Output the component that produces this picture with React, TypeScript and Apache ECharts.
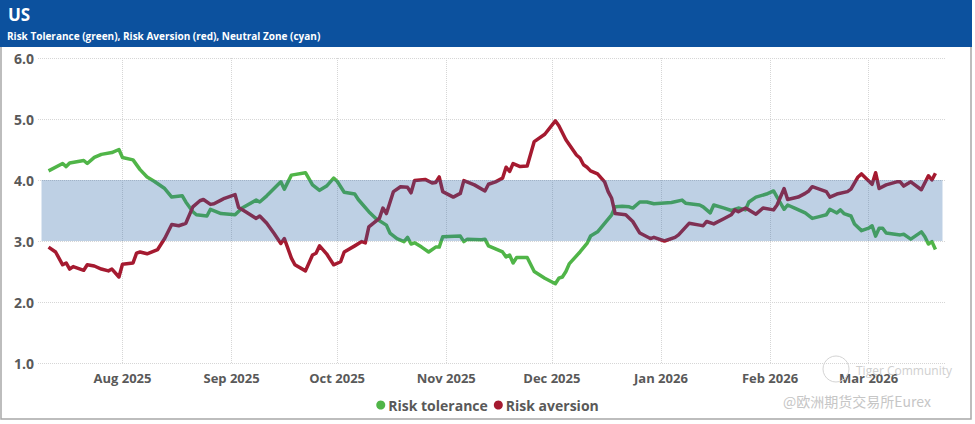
import React, { useEffect, useRef } from 'react';
import * as echarts from 'echarts';

const monthNames = ['Jan', 'Feb', 'Mar', 'Apr', 'May', 'Jun', 'Jul', 'Aug', 'Sep', 'Oct', 'Nov', 'Dec'];

const toleranceDates = [
  '2025-07-11', '2025-07-15', '2025-07-16', '2025-07-17', '2025-07-21', '2025-07-22', '2025-07-24', '2025-07-26', '2025-07-29', '2025-07-31',
  '2025-08-01', '2025-08-04', '2025-08-06', '2025-08-08', '2025-08-10', '2025-08-13', '2025-08-15', '2025-08-18', '2025-08-19', '2025-08-21',
  '2025-08-22', '2025-08-25', '2025-08-26', '2025-08-29', '2025-09-02', '2025-09-04', '2025-09-08', '2025-09-09', '2025-09-11', '2025-09-15',
  '2025-09-16', '2025-09-18', '2025-09-22', '2025-09-24', '2025-09-26', '2025-09-28', '2025-09-30', '2025-10-01', '2025-10-03', '2025-10-06',
  '2025-10-07', '2025-10-10', '2025-10-12', '2025-10-15', '2025-10-16', '2025-10-18', '2025-10-20', '2025-10-21', '2025-10-22', '2025-10-23',
  '2025-10-25', '2025-10-27', '2025-10-29', '2025-10-30', '2025-10-31', '2025-11-05', '2025-11-06', '2025-11-07', '2025-11-11', '2025-11-12',
  '2025-11-13', '2025-11-17', '2025-11-18', '2025-11-19', '2025-11-20', '2025-11-21', '2025-11-24', '2025-11-26', '2025-11-29', '2025-12-02',
  '2025-12-03', '2025-12-04', '2025-12-05', '2025-12-06', '2025-12-09', '2025-12-11', '2025-12-12', '2025-12-14', '2025-12-16', '2025-12-18',
  '2025-12-19', '2025-12-21', '2025-12-23', '2025-12-24', '2025-12-26', '2025-12-28', '2025-12-30', '2026-01-04', '2026-01-07', '2026-01-08',
  '2026-01-12', '2026-01-13', '2026-01-15', '2026-01-16', '2026-01-19', '2026-01-21', '2026-01-23', '2026-01-25', '2026-01-26', '2026-01-28',
  '2026-01-31', '2026-02-02', '2026-02-03', '2026-02-05', '2026-02-06', '2026-02-08', '2026-02-11', '2026-02-13', '2026-02-15', '2026-02-17',
  '2026-02-18', '2026-02-20', '2026-02-21', '2026-02-22', '2026-02-24', '2026-02-25', '2026-02-27', '2026-03-01', '2026-03-02', '2026-03-03',
  '2026-03-04', '2026-03-05', '2026-03-06', '2026-03-10', '2026-03-11', '2026-03-13', '2026-03-16', '2026-03-17', '2026-03-18', '2026-03-19',
  '2026-03-20',
];
const toleranceValues = [
  4.15, 4.27, 4.22, 4.28, 4.32, 4.27, 4.37, 4.42, 4.45, 4.50,
  4.37, 4.33, 4.17, 4.05, 3.98, 3.86, 3.72, 3.74, 3.64, 3.48,
  3.43, 3.41, 3.52, 3.45, 3.43, 3.54, 3.67, 3.64, 3.74, 3.97,
  3.85, 4.08, 4.12, 3.92, 3.83, 3.90, 4.03, 3.98, 3.80, 3.77,
  3.68, 3.48, 3.37, 3.26, 3.13, 3.04, 2.99, 3.06, 2.95, 2.97,
  2.90, 2.82, 2.90, 2.90, 3.07, 3.08, 2.99, 3.03, 3.02, 3.03,
  2.92, 2.82, 2.74, 2.77, 2.64, 2.73, 2.73, 2.50, 2.39, 2.30,
  2.39, 2.41, 2.50, 2.63, 2.82, 2.96, 3.08, 3.15, 3.29, 3.43,
  3.56, 3.57, 3.56, 3.54, 3.64, 3.64, 3.61, 3.63, 3.67, 3.62,
  3.59, 3.56, 3.46, 3.59, 3.54, 3.50, 3.54, 3.51, 3.64, 3.72,
  3.77, 3.82, 3.72, 3.52, 3.59, 3.54, 3.46, 3.37, 3.40, 3.43,
  3.52, 3.46, 3.51, 3.45, 3.41, 3.28, 3.17, 3.21, 3.25, 3.08,
  3.21, 3.21, 3.13, 3.10, 3.11, 3.03, 3.15, 3.07, 2.95, 2.99,
  2.86,
];

const aversionDates = [
  '2025-07-11', '2025-07-13', '2025-07-15', '2025-07-16', '2025-07-17', '2025-07-18', '2025-07-21', '2025-07-22', '2025-07-24', '2025-07-26',
  '2025-07-28', '2025-07-29', '2025-07-31', '2025-08-01', '2025-08-04', '2025-08-05', '2025-08-06', '2025-08-08', '2025-08-11', '2025-08-13',
  '2025-08-15', '2025-08-17', '2025-08-19', '2025-08-21', '2025-08-23', '2025-08-24', '2025-08-26', '2025-08-27', '2025-08-29', '2025-08-30',
  '2025-09-02', '2025-09-03', '2025-09-05', '2025-09-08', '2025-09-09', '2025-09-11', '2025-09-13', '2025-09-15', '2025-09-16', '2025-09-18',
  '2025-09-19', '2025-09-22', '2025-09-24', '2025-09-25', '2025-09-26', '2025-09-28', '2025-09-30', '2025-10-02', '2025-10-03', '2025-10-06',
  '2025-10-08', '2025-10-09', '2025-10-10', '2025-10-13', '2025-10-14', '2025-10-15', '2025-10-17', '2025-10-19', '2025-10-21', '2025-10-22',
  '2025-10-23', '2025-10-26', '2025-10-28', '2025-10-29', '2025-10-30', '2025-10-31', '2025-11-03', '2025-11-05', '2025-11-06', '2025-11-09',
  '2025-11-12', '2025-11-13', '2025-11-15', '2025-11-17', '2025-11-18', '2025-11-19', '2025-11-20', '2025-11-22', '2025-11-24', '2025-11-26',
  '2025-11-29', '2025-12-02', '2025-12-03', '2025-12-05', '2025-12-08', '2025-12-09', '2025-12-10', '2025-12-11', '2025-12-12', '2025-12-14',
  '2025-12-16', '2025-12-17', '2025-12-18', '2025-12-19', '2025-12-22', '2025-12-24', '2025-12-26', '2025-12-29', '2025-12-30', '2026-01-02',
  '2026-01-05', '2026-01-06', '2026-01-09', '2026-01-12', '2026-01-13', '2026-01-14', '2026-01-16', '2026-01-19', '2026-01-21', '2026-01-22',
  '2026-01-23', '2026-01-25', '2026-01-26', '2026-01-28', '2026-01-30', '2026-02-02', '2026-02-03', '2026-02-05', '2026-02-06', '2026-02-09',
  '2026-02-11', '2026-02-12', '2026-02-13', '2026-02-17', '2026-02-18', '2026-02-20', '2026-02-23', '2026-02-24', '2026-02-26', '2026-02-27',
  '2026-03-02', '2026-03-03', '2026-03-04', '2026-03-06', '2026-03-09', '2026-03-10', '2026-03-11', '2026-03-13', '2026-03-16', '2026-03-18',
  '2026-03-19', '2026-03-20',
];
const aversionValues = [
  2.90, 2.82, 2.61, 2.64, 2.54, 2.58, 2.52, 2.61, 2.59, 2.54,
  2.51, 2.54, 2.41, 2.62, 2.64, 2.80, 2.82, 2.79, 2.86, 3.04,
  3.27, 3.25, 3.29, 3.56, 3.66, 3.68, 3.60, 3.61, 3.67, 3.70,
  3.76, 3.55, 3.48, 3.37, 3.41, 3.29, 3.13, 2.96, 3.04, 2.72,
  2.61, 2.51, 2.77, 2.80, 2.92, 2.79, 2.61, 2.66, 2.82, 2.92,
  2.99, 2.97, 3.23, 3.37, 3.54, 3.45, 3.81, 3.89, 3.88, 3.79,
  3.99, 4.01, 3.95, 3.96, 4.05, 3.81, 3.72, 3.78, 3.99, 3.92,
  3.82, 3.93, 3.97, 4.03, 4.21, 4.14, 4.27, 4.22, 4.23, 4.63,
  4.75, 4.97, 4.89, 4.66, 4.41, 4.36, 4.25, 4.21, 4.15, 4.10,
  3.97, 3.81, 3.70, 3.45, 3.43, 3.32, 3.13, 3.04, 3.06, 3.00,
  3.06, 3.10, 3.29, 3.26, 3.25, 3.32, 3.28, 3.37, 3.43, 3.51,
  3.48, 3.54, 3.51, 3.44, 3.54, 3.51, 3.59, 3.86, 3.68, 3.72,
  3.78, 3.82, 3.89, 3.81, 3.72, 3.77, 3.81, 3.85, 4.05, 4.10,
  3.93, 4.12, 3.86, 3.92, 3.97, 3.97, 3.90, 3.97, 3.84, 4.07,
  4.00, 4.11,
];

const seriesNames = ['Risk tolerance', 'Risk aversion'];
const neutralZone = [3, 4];
const axisRange = ['2025-07-08', '2026-03-23'];
const bandRange = ['2025-07-09', '2026-03-22'];
const yRange = [1, 6];

const toTime = (s: string) => {
  const [y, m, d] = s.split('-').map(Number);
  return new Date(y, m - 1, d).getTime();
};

const FONT = '"Open Sans", "Noto Sans", sans-serif';
const DAY = 86400000;

export default function App() {
  const ref = useRef<HTMLDivElement>(null);

  useEffect(() => {
    document.body.style.margin = '0';
    const chart = echarts.init(ref.current as HTMLDivElement, null, { renderer: 'svg' });
    const tolData = toleranceDates.map((d, i) => [toTime(d), toleranceValues[i]]);
    const avData = aversionDates.map((d, i) => [toTime(d), aversionValues[i]]);
    const bandData = [[toTime(bandRange[0]), toTime(bandRange[1]), neutralZone[0], neutralZone[1]]];

    chart.setOption({
      animation: false,
      textStyle: { fontFamily: FONT },
      graphic: [
        {
          type: 'rect',
          shape: { x: 1, y: 1, width: 970, height: 418 },
          style: { fill: 'none', stroke: '#a8a8a8', lineWidth: 1.5 },
          z: 0,
        },
        {
          type: 'rect',
          shape: { x: 0, y: 0, width: 972, height: 47 },
          style: { fill: '#0c519e' },
          z: 1,
        },
        {
          type: 'text',
          x: 8,
          y: 14,
          style: { text: 'US', fill: '#ffffff', font: `bold 17px ${FONT}`, verticalAlign: 'middle' },
          z: 2,
        },
        {
          type: 'text',
          x: 7,
          y: 36,
          style: {
            text: 'Risk Tolerance (green), Risk Aversion (red), Neutral Zone (cyan)',
            fill: '#ffffff',
            font: `bold 10px ${FONT}`,
            verticalAlign: 'middle',
          },
          z: 2,
        },
        {
          type: 'circle',
          shape: { cx: 836, cy: 369, r: 13 },
          style: { fill: 'none', stroke: '#d4d4d4', lineWidth: 1 },
          z: 20,
          silent: true,
        },
        {
          type: 'text',
          x: 856,
          y: 370,
          style: { text: 'Tiger Community', fill: '#cfcfcf', font: `12px ${FONT}`, verticalAlign: 'middle' },
          z: 20,
          silent: true,
        },
        {
          type: 'text',
          x: 783,
          y: 401,
          style: { text: '@欧洲期货交易所Eurex', fill: '#c6c6c6', font: `14px "Noto Sans CJK SC", ${FONT}`, verticalAlign: 'middle' },
          z: 20,
          silent: true,
        },
      ],
      grid: { left: 38, right: 29, top: 58, bottom: 61, containLabel: false },
      legend: {
        data: seriesNames,
        left: 'center',
        top: 393,
        icon: 'circle',
        itemWidth: 9,
        itemHeight: 9,
        itemGap: 6,
        textStyle: { fontFamily: FONT, fontWeight: 'bold', fontSize: 14, color: '#595959', padding: [0, 0, 0, -2] },
      },
      xAxis: {
        type: 'time',
        min: toTime(axisRange[0]),
        max: toTime(axisRange[1]),
        splitNumber: 9,
        minInterval: 28 * DAY,
        maxInterval: 31 * DAY,
        axisLine: { show: false },
        axisTick: { show: false },
        axisLabel: {
          fontFamily: FONT,
          fontWeight: 'bold',
          fontSize: 13,
          color: '#595959',
          margin: 8,
          showMinLabel: false,
          showMaxLabel: false,
          formatter: (val: number) => {
            const d = new Date(val);
            if (d.getDate() !== 1) return '';
            return `${monthNames[d.getMonth()]} ${d.getFullYear()}`;
          },
        },
        splitLine: {
          show: true,
          showMinLine: false,
          showMaxLine: false,
          lineStyle: { type: 'dotted', color: '#d6d6d6', width: 1 },
        },
      },
      yAxis: {
        type: 'value',
        min: yRange[0],
        max: yRange[1],
        interval: 1,
        axisLine: { show: false },
        axisTick: { show: false },
        axisLabel: {
          fontFamily: FONT,
          fontWeight: 'bold',
          fontSize: 14,
          color: '#595959',
          margin: 4,
          formatter: (v: number) => v.toFixed(1),
        },
        splitLine: { lineStyle: { type: 'dotted', color: '#d6d6d6', width: 1 } },
      },
      series: [
        {
          name: seriesNames[0],
          type: 'line',
          data: tolData,
          showSymbol: false,
          symbol: 'none',
          lineStyle: { width: 3.5, color: '#50b548', join: 'round' },
          itemStyle: { color: '#50b548' },
          z: 2,
        },
        {
          name: seriesNames[1],
          type: 'line',
          data: avData,
          showSymbol: false,
          symbol: 'none',
          lineStyle: { width: 3.5, color: '#a51a30', join: 'round' },
          itemStyle: { color: '#a51a30' },
          z: 3,
        },
        {
          name: 'Neutral zone',
          type: 'custom',
          data: bandData,
          z: 10,
          silent: true,
          renderItem: (_params: any, api: any) => {
            const p0 = api.coord([api.value(0), api.value(3)]);
            const p1 = api.coord([api.value(1), api.value(2)]);
            return {
              type: 'rect',
              shape: { x: p0[0], y: p0[1], width: p1[0] - p0[0], height: p1[1] - p0[1] },
              style: { fill: 'rgba(40,100,165,0.3)' },
            };
          },
        },
      ],
    });
    return () => chart.dispose();
  }, []);

  return <div ref={ref} style={{ width: 975, height: 424 }} />;
}
